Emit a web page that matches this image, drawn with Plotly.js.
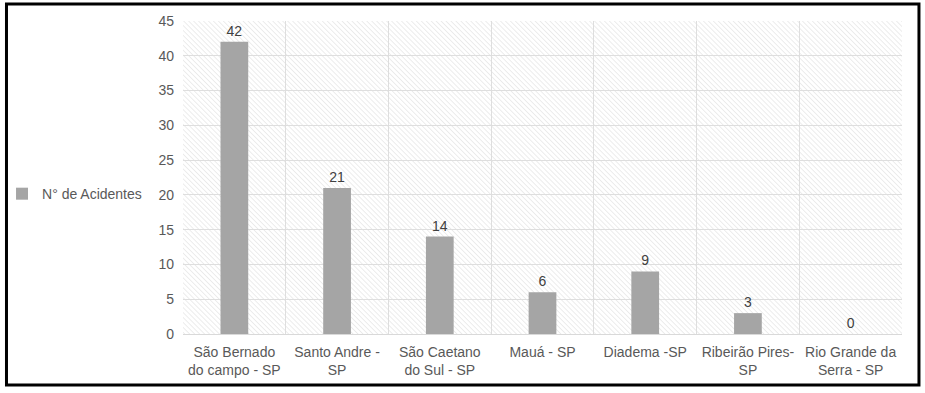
<!DOCTYPE html>
<html><head><meta charset="utf-8">
<script src="https://cdn.plot.ly/plotly-3.0.1.min.js"></script>
<style>body{margin:0;background:#fff}#chart{width:925px;height:393px}</style>
</head><body><div id="chart"></div>
<script>
const categories = ["São Bernado<br>do campo - SP","Santo Andre -<br>SP","São Caetano<br>do Sul - SP","Mauá - SP","Diadema -SP","Ribeirão Pires-<br>SP","Rio Grande da<br>Serra - SP"];
const acidentes = [42, 21, 14, 6, 9, 3, 0];
const seriesName = "N° de Acidentes";
const yTicks = [0,5,10,15,20,25,30,35,40,45];

const hatchSvg = '<svg xmlns="http://www.w3.org/2000/svg" width="719" height="313">' +
 '<defs><pattern id="p" width="3.5" height="3.5" patternUnits="userSpaceOnUse" patternTransform="rotate(-45)">' +
 '<line x1="0" y1="0" x2="0" y2="3.5" stroke="#dadada" stroke-width="1"/></pattern></defs>' +
 '<rect width="719" height="313" fill="#fff"/><rect width="719" height="313" fill="url(#p)"/></svg>';
const hatchUri = 'data:image/svg+xml;base64,' + btoa(hatchSvg);

const fam = "Liberation Sans, Arial, sans-serif";
const font = {family: fam, size: 14, color: "#595959"};

const data = [{
  type: "bar",
  x: categories,
  y: acidentes,
  name: seriesName,
  marker: {color: "#a5a5a5"},
  text: acidentes.map(String),
  textposition: "outside",
  cliponaxis: false,
  textfont: {family: fam, size: 14, color: "#404040"},
  showlegend: true
}];

const layout = {
  width: 925, height: 393,
  margin: {l: 183, r: 23, t: 21, b: 59, pad: 0, autoexpand: false},
  paper_bgcolor: "#fff",
  plot_bgcolor: "rgba(0,0,0,0)",
  font: font,
  bargap: 0.73,
  showlegend: true,
  legend: {x: -0.2517, xanchor: "left", y: 0.447, yanchor: "middle", font: {family: fam, size: 14, color: "#595959"}, itemwidth: 30, bgcolor: "rgba(0,0,0,0)"},
  xaxis: {
    type: "category",
    showgrid: true, gridcolor: "#dedede", gridwidth: 1,
    tickson: "boundaries", ticks: "", showline: false, zeroline: false,
    ticklabelstandoff: 8,
    tickfont: {family: fam, size: 14, color: "#595959"},
    automargin: false, fixedrange: true
  },
  yaxis: {
    range: [0, 45], tickvals: yTicks, showgrid: true, gridcolor: "#dedede", gridwidth: 1,
    zeroline: true, zerolinecolor: "#d9d9d9", zerolinewidth: 1,
    ticks: "", ticklen: 0, showline: false, automargin: false,
    ticklabelstandoff: 8,
    tickfont: {family: fam, size: 14, color: "#595959"}
  },
  images: [{source: hatchUri, xref: "paper", yref: "paper", x: 0, y: 1, sizex: 1, sizey: 1, sizing: "stretch", xanchor: "left", yanchor: "top", layer: "below"}],
  shapes: [{type: "rect", xref: "paper", yref: "paper", x0: -0.2455, x1: 1.0236, y0: -0.1629, y1: 1.0543, line: {color: "#000", width: 3}}]
};

Plotly.newPlot("chart", data, layout, {displayModeBar: false, staticPlot: true});
</script></body></html>
